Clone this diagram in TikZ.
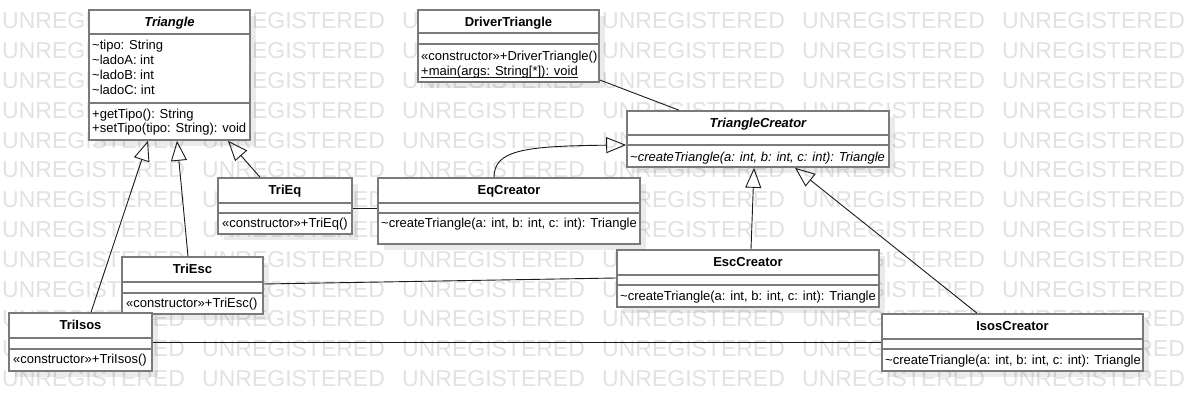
\documentclass[tikz,border=0pt]{standalone}
\usepackage{fontspec}
\setmainfont{Liberation Sans}
\usetikzlibrary{arrows.meta,fit}
\definecolor{bord}{HTML}{7A7A7A}
\definecolor{wmc}{HTML}{E2E2E2}
\definecolor{lnc}{HTML}{1A1A1A}
\newcommand\mfont{\fontsize{13}{15}\selectfont}
\newcommand\umlcls[7]{%
  \fill[black,opacity=0.08] (#2+6,#3+6) rectangle (#4+6,#5+6);
  \node[cbox, fit={(#2,#3) (#4,#5)}] (#1) {};
  \draw[cdiv] (#1.west |- 0,#6) -- (#1.east |- 0,#6);
  \draw[cdiv] (#1.west |- 0,#7) -- (#1.east |- 0,#7);
}
\begin{document}
\begin{tikzpicture}[x=1pt,y=-1pt,
  cbox/.style={draw=bord, line width=1.6pt, fill=white, inner sep=0pt, rectangle},
  cdiv/.style={draw=bord, line width=1.6pt},
  mem/.style={anchor=base west, inner sep=0pt, font=\mfont},
  ttl/.style={anchor=base, inner sep=0pt, font=\mfont\bfseries},
  wm/.style={anchor=west, inner sep=0pt, text=wmc, font=\fontsize{23}{23}\selectfont},
  gen/.style={draw=lnc, line width=0.9pt, -{Triangle[open, length=20pt, width=16pt]}},
  assoc/.style={draw=lnc, line width=0.9pt}]
\useasboundingbox (0,0) rectangle (1184,411);
\clip (0,0) rectangle (1184,411);
\fill[white] (0,0) rectangle (1184,411);
% watermark
\foreach \r in {0,...,12}{\foreach \c in {0,...,5}{
  \node[wm] (wm\r-\c) at ({2+200*\c},{21+29.8*\r}) {UNREGISTERED};}}
% classes
\umlcls{tri}{89}{10}{250}{140}{34}{103}
\node[ttl] (tri-n) at (169.5,27) {\itshape Triangle};
\node[mem] (tri-a1) at (92,50) {\textasciitilde tipo: String};
\node[mem] (tri-a2) at (92,65) {\textasciitilde ladoA: int};
\node[mem] (tri-a3) at (92,80) {\textasciitilde ladoB: int};
\node[mem] (tri-a4) at (92,95) {\textasciitilde ladoC: int};
\node[mem] (tri-m1) at (92,118.5) {+getTipo(): String};
\node[mem] (tri-m2) at (92,133) {+setTipo(tipo: String): void};

\umlcls{drv}{418}{10}{599}{82}{33}{44}
\node[ttl] (drv-n) at (508.5,26.5) {DriverTriangle};
\node[mem] (drv-m1) at (421,60.5) {«constructor»+DriverTriangle()};
\node[mem] (drv-m2) at (421,75.5) {+main(args: String[*]): void};
\draw[lnc, line width=0.8pt] ([yshift=-1.8pt]drv-m2.base west) -- ([yshift=-1.8pt]drv-m2.base east);

\umlcls{tc}{627}{111}{889}{167}{135}{145}
\node[ttl] (tc-n) at (758,128) {\itshape TriangleCreator};
\node[mem] (tc-m1) at (630,161.5) {\itshape \textasciitilde createTriangle(a: int, b: int, c: int): Triangle};

\umlcls{eqc}{378}{178}{640}{244}{203}{213}
\node[ttl] (eqc-n) at (509,195) {EqCreator};
\node[mem] (eqc-m1) at (381,227.5) {\textasciitilde createTriangle(a: int, b: int, c: int): Triangle};

\umlcls{teq}{218}{178}{352}{234}{203}{213}
\node[ttl] (teq-n) at (285,195) {TriEq};
\node[mem] (teq-m1) at (222,227.5) {«constructor»+TriEq()};

\umlcls{tes}{122}{257}{263}{314}{282}{293}
\node[ttl] (tes-n) at (192.5,274) {TriEsc};
\node[mem] (tes-m1) at (126,307.5) {«constructor»+TriEsc()};

\umlcls{tis}{9}{313}{152}{371}{338}{349}
\node[ttl] (tis-n) at (80.5,330) {TriIsos};
\node[mem] (tis-m1) at (13,363.5) {«constructor»+TriIsos()};

\umlcls{esc}{617}{250}{879}{307}{275}{285}
\node[ttl] (esc-n) at (748,267) {EscCreator};
\node[mem] (esc-m1) at (620,300.5) {\textasciitilde createTriangle(a: int, b: int, c: int): Triangle};

\umlcls{isc}{882}{314}{1143}{371}{339}{349}
\node[ttl] (isc-n) at (1012.5,331) {IsosCreator};
\node[mem] (isc-m1) at (885,364.5) {\textasciitilde createTriangle(a: int, b: int, c: int): Triangle};

% connectors
\draw[gen] (tis.north -| 91,0) -- (tri.south -| 148,0);
\draw[gen] (tes.north -| 188,0) -- (tri.south -| 177,0);
\draw[gen] (teq.north -| 260,0) -- (tri.south -| 228,0);
\draw[assoc] (teq.east |- 0,208) -- (eqc.west |- 0,208);
\draw[assoc] (tes.east |- 0,284) -- (esc.west |- 0,278);
\draw[assoc] (tis.east |- 0,342) -- (isc.west |- 0,342);
\draw[assoc] (drv.east |- 0,80) -- (tc.north -| 679,0);
\draw[gen] (eqc.north -| 494,0) .. controls (494,150) and (525,146) .. (tc.west |- 0,145);
\draw[gen] (esc.north -| 751,0) -- (tc.south -| 754,0);
\draw[gen] (isc.north -| 977,0) -- (tc.south -| 795,0);
\end{tikzpicture}
\end{document}
